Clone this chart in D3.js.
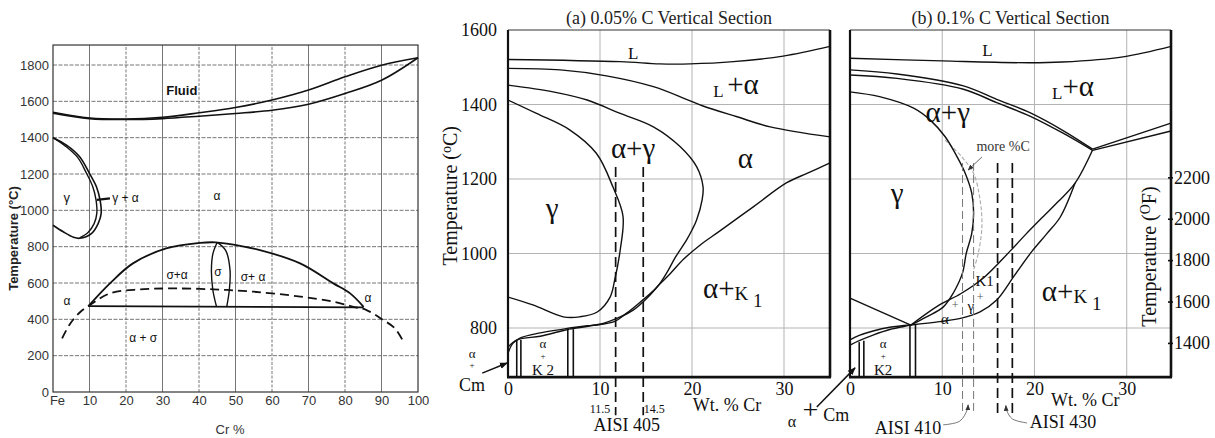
<!DOCTYPE html>
<html>
<head>
<meta charset="utf-8">
<script src="https://cdn.jsdelivr.net/npm/d3@7"></script>
<style>
  body { margin: 0; background: #fff; }
  svg { display: block; }
</style>
</head>
<body>
<svg id="chart" width="1215" height="438"></svg>
<script>
// ---------- data : Fe-Cr binary diagram (left) ----------
const feTicksX = [0, 10, 20, 30, 40, 50, 60, 70, 80, 90, 100];
const feTicksY = [0, 200, 400, 600, 800, 1000, 1200, 1400, 1600, 1800];
const feLiquidus = [[0,1540],[10,1508],[20,1502],[30,1512],[40,1537],[50,1566],[60,1607],[70,1662],[80,1735],[90,1799],[100,1840]];
const feSolidus = [[0,1535],[10,1505],[20,1500],[30,1505],[40,1518],[50,1533],[60,1551],[70,1584],[80,1643],[90,1716],[100,1840]];
const feGammaOuter = [[0,1400],[3.7,1359],[7.3,1295],[10,1203],[11.9,1130],[12.9,1056],[13.2,983],[12.4,928],[10.6,873],[7.3,846],[5.6,852],[2.8,882],[0,918]];
const feGammaInner = [[0,1400],[3.5,1352],[6.8,1290],[9.2,1203],[10.9,1130],[11.8,1056],[12,983],[11.3,928],[9.6,878],[7.3,848]];
const feSigmaUpper = [[9.7,473],[15.6,598],[21.9,708],[31,790],[40.3,821],[44.5,824],[47.6,817],[56.7,781],[67.7,708],[76.8,598],[81.4,543],[85.1,469]];
const feSigmaBase = [[9.7,473],[85.1,466]];
const feSigmaLensL = [[45,824],[43.8,760],[43.4,671],[43.8,560],[44.8,470]];
const feSigmaLensR = [[45,824],[47.3,780],[48.5,671],[48.3,560],[47.6,470]];
const feCurie = [[2.5,295],[4.7,376],[7.4,439],[9.7,473],[15.6,543],[23.9,565],[33,570],[44,565],[55,552],[67.8,525],[76.9,497],[82.3,469],[85.9,451],[90.5,396],[93.7,350],[96,277]];

// ---------- data : (a) 0.05% C vertical section ----------
const secTicksX = [0, 10, 20, 30];
const secTicksC = [800, 1000, 1200, 1400, 1600];
const secTicksF = [1400, 1600, 1800, 2000, 2200];
const aLiquidus = [[0,1521],[12.2,1515],[16.5,1509],[19.8,1509],[24.5,1515],[29.9,1530],[35,1556]];
const aSolidus = [[0,1497],[5.7,1493],[10.7,1477],[15.8,1448],[19.4,1414],[21.2,1396],[24.9,1367],[28.5,1340],[35,1313]];
const aDeltaLoop = [[0,1452],[4.9,1434],[8.6,1412],[12.2,1376],[15.8,1340],[18.7,1287],[20.5,1233],[21.2,1179],[21.1,1144],[20.5,1090],[20,1063],[19.4,1036],[18.2,990],[17.3,950],[16.2,910],[14.3,868],[12.9,840],[11.6,818],[9,806],[6.7,797]];
const aGammaLoop = [[0,1412],[3.1,1376],[6.7,1332],[9.6,1269],[11.4,1179],[12.5,1100],[12.2,1010],[11.6,929],[11.1,883],[9.7,843],[7.8,830],[6,830],[2.7,862],[0,883]];
const aK1 = [[6.7,800],[8.6,806],[10,810],[12.2,830],[13.6,848],[15.1,880],[16.5,918],[17.6,945],[19.1,985],[20.9,1023],[23,1060],[26.7,1126],[30.3,1190],[32.5,1215],[35,1243]];
const aLowUpper = [[0,732],[0.5,758],[1.3,773],[3.5,787],[6,797],[6.7,800]];
const aLowLower = [[0,749],[1,768],[3.5,778],[5.5,790],[6.7,797]];
const aK2Walls = [[0.95,768],[1.4,768],[6.5,797],[7.1,797]];
const aAisi405 = [11.7, 14.7];

// ---------- data : (b) 0.1% C vertical section ----------
const bLiquidus = [[0,1524],[10,1517],[19.5,1512],[23,1514],[29.6,1528],[34.8,1556]];
const bSolidusA = [[0,1493],[5.1,1482],[12.3,1450],[15.9,1414],[19.5,1378],[23.1,1330],[26.3,1280]];
const bSolidusB = [[0,1479],[5.1,1470],[12.3,1441],[15.9,1405],[19.5,1369],[23.1,1323],[26.3,1277]];
const bRightA = [[26.3,1280],[34.8,1350]];
const bRightB = [[26.3,1277],[34.8,1329]];
const bGammaLoop = [[0,1434],[3.2,1421],[6.9,1390],[8.7,1358],[10.3,1314],[11.6,1260],[12.5,1215],[13.2,1162],[13.4,1108],[13.2,1054],[12.6,1000],[12.2,948],[11.2,894],[10.1,856],[8.3,830],[6.6,808]];
const bEutectoid = [[0,880],[6.6,808]];
const bK1Upper = [[6.6,808],[9.7,862],[12,892],[14.5,935],[17.3,1005],[19,1050],[20.9,1098],[22.6,1140],[24.4,1189],[26.3,1278]];
const bK1Lower = [[6.6,808],[9.7,817],[12.2,827],[14.1,843],[15.9,875],[17.8,940],[19.7,1005],[21.3,1052],[22.8,1098],[24.4,1189]];
const bLowUpper = [[0,768],[1,780],[2.5,792],[4.3,802],[6.6,808]];
const bLowLower = [[0,754],[1,766],[2.5,781],[4.3,796],[6.6,808]];
const bK2Walls = [[1,762],[1.5,766],[6.5,808],[7.1,808]];
const bMoreC = [[10.3,1305],[12.1,1260],[13.4,1215],[14.1,1144],[14.3,1072],[13.9,1000],[13.4,956]];
const bAisi410 = [12.2, 13.4];
const bAisi430 = [16, 17.6];

const SANS = "'Liberation Sans', Arial, sans-serif";
const SERIF = "'Liberation Serif', 'Times New Roman', serif";
const intFmt = d3.format("d");

const svg = d3.select("#chart");

const defs = svg.append("defs");
defs.append("marker").attr("id", "arrow")
  .attr("viewBox", "0 0 10 10").attr("refX", 9).attr("refY", 5)
  .attr("markerWidth", 8).attr("markerHeight", 8)
  .attr("markerUnits", "userSpaceOnUse").attr("orient", "auto")
  .append("path").attr("d", "M0,1 L10,5 L0,9 z").attr("fill", "#111");
defs.append("marker").attr("id", "arrowSmall")
  .attr("viewBox", "0 0 10 10").attr("refX", 9).attr("refY", 5)
  .attr("markerWidth", 6).attr("markerHeight", 6)
  .attr("markerUnits", "userSpaceOnUse").attr("orient", "auto")
  .append("path").attr("d", "M0,1 L10,5 L0,9 z").attr("fill", "#333");

function curve(g, x, y, pts, st) {
  st = st || {};
  const gen = d3.line()
    .x(d => x(d[0]))
    .y(d => y(d[1]))
    .curve(st.linear ? d3.curveLinear : d3.curveCatmullRom.alpha(0.5));
  const p = g.append("path")
    .attr("d", gen(pts))
    .attr("fill", "none")
    .attr("stroke", st.stroke || "#111")
    .attr("stroke-width", st.width || 1.4)
    .attr("stroke-linejoin", "round");
  if (st.dash) p.attr("stroke-dasharray", st.dash);
  if (st.marker) p.attr("marker-end", "url(#" + st.marker + ")");
  return p;
}

function label(g, px, py, txt, size, font, opts) {
  opts = opts || {};
  return g.append("text")
    .attr("x", px).attr("y", py)
    .attr("dy", "0.35em")
    .attr("text-anchor", opts.anchor || "middle")
    .attr("font-family", font)
    .attr("font-size", size)
    .attr("font-weight", opts.bold ? "bold" : "normal")
    .attr("fill", opts.fill || "#111")
    .text(txt);
}

function phase(g, px, py, parts) {
  const t = g.append("text").attr("x", px).attr("y", py)
    .attr("font-family", SERIF).attr("fill", "#111");
  parts.forEach(p => {
    t.append("tspan").attr("font-size", p[1]).attr("dy", p[2] || 0).text(p[0]);
  });
  return t;
}

// =============== panel 1 : Fe-Cr ===============
const x1 = d3.scaleLinear().domain([0, 100]).range([53, 418]);
const y1 = d3.scaleLinear().domain([0, 1800]).range([392, 65]);
const y1Top = 1910;
const g1 = svg.append("g");

g1.selectAll(".vgrid").data(feTicksX.slice(1, -1)).enter().append("line")
  .attr("x1", d => x1(d)).attr("x2", d => x1(d))
  .attr("y1", y1(0)).attr("y2", y1(y1Top))
  .attr("stroke", "#666").attr("stroke-width", 0.9)
  .attr("stroke-dasharray", (d, i) => i % 2 ? "3,1.5" : null);
g1.selectAll(".hgrid").data(feTicksY.slice(1)).enter().append("line")
  .attr("x1", x1(0)).attr("x2", x1(100))
  .attr("y1", d => y1(d)).attr("y2", d => y1(d))
  .attr("stroke", "#666").attr("stroke-width", 0.9)
  .attr("stroke-dasharray", "4,1.5");
g1.append("rect")
  .attr("x", x1(0)).attr("y", y1(y1Top))
  .attr("width", x1(100) - x1(0)).attr("height", y1(0) - y1(y1Top))
  .attr("fill", "none").attr("stroke", "#333").attr("stroke-width", 1.2);

const ax1y = g1.append("g").attr("transform", `translate(${x1(0)},0)`)
  .call(d3.axisLeft(y1).tickValues(feTicksY).tickFormat(intFmt).tickSize(0).tickPadding(4));
ax1y.select(".domain").remove();
ax1y.attr("font-family", SANS).attr("font-size", 13);
ax1y.selectAll("text").attr("fill", "#333");

const ax1x = g1.append("g").attr("transform", `translate(0,${y1(0)})`)
  .call(d3.axisBottom(x1).tickValues(feTicksX).tickSize(0).tickPadding(4)
    .tickFormat(d => d === 0 ? "Fe" : intFmt(d)));
ax1x.select(".domain").remove();
ax1x.attr("font-family", SANS).attr("font-size", 13);
ax1x.selectAll("text").attr("fill", "#333");
ax1x.selectAll(".tick").filter(d => d === 0).select("text").attr("dx", 4);

curve(g1, x1, y1, feLiquidus, { width: 1.6 });
curve(g1, x1, y1, feSolidus, { width: 1.6 });
curve(g1, x1, y1, feGammaOuter, { width: 1.6 });
curve(g1, x1, y1, feGammaInner, { width: 1.4 });
curve(g1, x1, y1, feSigmaUpper, { width: 1.8 });
curve(g1, x1, y1, feSigmaBase, { width: 1.8, linear: true });
curve(g1, x1, y1, feSigmaLensL, { width: 1.4 });
curve(g1, x1, y1, feSigmaLensR, { width: 1.4 });
curve(g1, x1, y1, feCurie, { width: 1.8, dash: "9,5" });
curve(g1, x1, y1, [[12, 1058], [15.6, 1066]], { width: 2.2, linear: true });

label(g1, x1(35.3), y1(1662), "Fluid", 13, SANS, { bold: true });
label(g1, x1(3.8), y1(1073), "γ", 13, SANS);
label(g1, x1(16.2), y1(1068), "γ + α", 12, SANS, { anchor: "start" });
label(g1, x1(44.9), y1(1079), "α", 12, SANS);
label(g1, x1(34), y1(644), "σ+α", 12, SANS);
label(g1, x1(45.2), y1(660), "σ", 12, SANS);
label(g1, x1(54.8), y1(633), "σ+ α", 12, SANS);
label(g1, x1(3.8), y1(501), "α", 12, SANS);
label(g1, x1(86.3), y1(517), "α", 12, SANS);
label(g1, x1(24.7), y1(297), "α + σ", 12, SANS);

g1.append("text")
  .attr("transform", `translate(13,${(y1(0) + y1(y1Top)) / 2 + 20}) rotate(-90)`)
  .attr("dy", "0.35em").attr("text-anchor", "middle")
  .attr("font-family", SANS).attr("font-size", 13).attr("font-weight", "bold")
  .attr("fill", "#222")
  .text("Temperature   (°C)");
label(g1, x1(48.5), 429, "Cr %", 13, SANS, { fill: "#333" });

// =============== shared helpers for the two sections ===============
const cBottom = 668;
const yC = d3.scaleLinear().domain([800, 1600]).range([328, 30]);

function sectionFrame(g, x, xMax, title) {
  g.selectAll(".vg").data(secTicksX.slice(1)).enter().append("line")
    .attr("x1", d => x(d)).attr("x2", d => x(d))
    .attr("y1", yC(cBottom)).attr("y2", yC(1600))
    .attr("stroke", "#b3b3b3").attr("stroke-width", 1);
  g.selectAll(".hg").data(secTicksC.slice(0, -1)).enter().append("line")
    .attr("x1", x(0)).attr("x2", x(xMax))
    .attr("y1", d => yC(d)).attr("y2", d => yC(d))
    .attr("stroke", "#b3b3b3").attr("stroke-width", 1);
  g.append("line").attr("x1", x(0)).attr("x2", x(xMax))
    .attr("y1", yC(1600)).attr("y2", yC(1600))
    .attr("stroke", "#333").attr("stroke-width", 1);
  g.append("line").attr("x1", x(0)).attr("x2", x(0))
    .attr("y1", yC(1600)).attr("y2", yC(cBottom))
    .attr("stroke", "#111").attr("stroke-width", 2.2);
  g.append("line").attr("x1", x(xMax)).attr("x2", x(xMax))
    .attr("y1", yC(1600)).attr("y2", yC(cBottom))
    .attr("stroke", "#111").attr("stroke-width", 2.6);
  g.append("line").attr("x1", x(0) - 1).attr("x2", x(xMax) + 1)
    .attr("y1", yC(cBottom)).attr("y2", yC(cBottom))
    .attr("stroke", "#111").attr("stroke-width", 2.6);

  const ax = g.append("g").attr("transform", `translate(0,${yC(cBottom)})`)
    .call(d3.axisBottom(x).tickValues(secTicksX).tickFormat(intFmt).tickSize(0).tickPadding(5));
  ax.select(".domain").remove();
  ax.attr("font-family", SERIF).attr("font-size", 18);
  ax.selectAll("text").attr("fill", "#111");

  label(g, (x(0) + x(xMax)) / 2, 18, title, 18, SERIF, { fill: "#222" });
}

function walls(g, x, pts) {
  g.selectAll(".wall").data(pts).enter().append("line")
    .attr("x1", d => x(d[0])).attr("x2", d => x(d[0]))
    .attr("y1", yC(cBottom)).attr("y2", d => yC(d[1]))
    .attr("stroke", "#111").attr("stroke-width", 1.6);
}

function dashes(g, x, vals, top, bottom, st) {
  g.selectAll(".dsh").data(vals).enter().append("line")
    .attr("x1", d => x(d)).attr("x2", d => x(d))
    .attr("y1", yC(top)).attr("y2", yC(bottom))
    .attr("stroke", st.stroke).attr("stroke-width", st.width)
    .attr("stroke-dasharray", st.dash);
}

// =============== panel 2 : (a) 0.05% C ===============
const x2 = d3.scaleLinear().domain([0, 35]).range([508, 830]);
const g2 = svg.append("g");
sectionFrame(g2, x2, 35, "(a)  0.05% C Vertical Section");

const ax2y = g2.append("g").attr("transform", `translate(${x2(0)},0)`)
  .call(d3.axisLeft(yC).tickValues(secTicksC).tickFormat(intFmt).tickSize(0).tickPadding(11));
ax2y.select(".domain").remove();
ax2y.attr("font-family", SERIF).attr("font-size", 18);
ax2y.selectAll("text").attr("fill", "#111");

g2.append("text")
  .attr("transform", `translate(450,${yC(1155)}) rotate(-90)`)
  .attr("dy", "0.35em").attr("text-anchor", "middle")
  .attr("font-family", SERIF).attr("font-size", 20).attr("fill", "#111")
  .text("Temperature (")
  .call(t => t.append("tspan").attr("font-size", 14).attr("dy", -6).text("o"))
  .call(t => t.append("tspan").attr("dy", 6).text("C)"));

curve(g2, x2, yC, aLiquidus);
curve(g2, x2, yC, aSolidus);
curve(g2, x2, yC, aDeltaLoop);
curve(g2, x2, yC, aGammaLoop);
curve(g2, x2, yC, aK1);
curve(g2, x2, yC, aLowUpper);
curve(g2, x2, yC, aLowLower);
walls(g2, x2, aK2Walls);
dashes(g2, x2, aAisi405, 1232, 566, { stroke: "#111", width: 1.7, dash: "10,5" });
curve(g2, x2, yC, [[-2.8, 679], [-0.1, 706]], { width: 1.5, linear: true, marker: "arrow" });

label(g2, x2(13.6), yC(1538), "L", 17, SERIF);
phase(g2, x2(22.3), yC(1452) + 9, [["L ", 17, 3], ["+α", 29, -3]]);
label(g2, x2(13.6), yC(1283), "α+γ", 29, SERIF);
label(g2, x2(25.8), yC(1256), "α", 29, SERIF);
label(g2, x2(4.8), yC(1122), "γ", 29, SERIF);
phase(g2, x2(21.2), yC(902) + 8, [["α+", 29], ["K", 19, 2], [" 1", 19, 7]]);
label(g2, x2(3.8), yC(758), "α", 13, SERIF);
label(g2, x2(3.8), yC(725), "+", 9, SERIF);
label(g2, x2(3.8), yC(689), "K 2", 15, SERIF);
label(g2, x2(-3.9), yC(732), "α", 13, SERIF);
label(g2, x2(-3.9), yC(700), "+", 9, SERIF);
label(g2, x2(-3.9), yC(649), "Cm", 18, SERIF);
label(g2, x2(10), yC(584), "11.5", 12, SERIF);
label(g2, x2(15.9), yC(584), "14.5", 12, SERIF);
label(g2, x2(12.9), yC(540), "AISI 405", 18, SERIF);
label(g2, x2(23.8), yC(594), "Wt. % Cr", 18, SERIF);

// =============== panel 3 : (b) 0.1% C ===============
const x3 = d3.scaleLinear().domain([0, 34.8]).range([850, 1171]);
const yF = d3.scaleLinear()
  .domain([cBottom * 9 / 5 + 32, 1600 * 9 / 5 + 32])
  .range([yC(cBottom), yC(1600)]);
const g3 = svg.append("g");
sectionFrame(g3, x3, 34.8, "(b)  0.1% C Vertical Section");

const ax3y = g3.append("g").attr("transform", `translate(${x3(34.8) - 3},0)`)
  .call(d3.axisRight(yF).tickValues(secTicksF).tickFormat(intFmt).tickSize(5).tickPadding(1));
ax3y.select(".domain").remove();
ax3y.attr("font-family", SERIF).attr("font-size", 18);
ax3y.selectAll("text").attr("fill", "#111");
ax3y.selectAll("line").attr("stroke", "#111").attr("stroke-width", 1.6);

g3.append("text")
  .attr("transform", `translate(1149,${yC(1000) + 3}) rotate(-90)`)
  .attr("dy", "0.35em").attr("text-anchor", "middle")
  .attr("font-family", SERIF).attr("font-size", 20).attr("fill", "#111")
  .text("Temperature (")
  .call(t => t.append("tspan").attr("font-size", 14).attr("dy", -6).text("O"))
  .call(t => t.append("tspan").attr("dy", 6).text("F)"));

curve(g3, x3, yC, bMoreC, { stroke: "#aaa", width: 1.1, dash: "4,2" });
curve(g3, x3, yC, bLiquidus);
curve(g3, x3, yC, bSolidusA);
curve(g3, x3, yC, bSolidusB);
curve(g3, x3, yC, bRightA, { linear: true });
curve(g3, x3, yC, bRightB, { linear: true });
curve(g3, x3, yC, bGammaLoop);
curve(g3, x3, yC, bEutectoid, { linear: true });
curve(g3, x3, yC, bK1Upper);
curve(g3, x3, yC, bK1Lower);
curve(g3, x3, yC, bLowUpper);
curve(g3, x3, yC, bLowLower);
walls(g3, x3, bK2Walls);
dashes(g3, x3, bAisi410, 1243, 576, { stroke: "#777", width: 1, dash: "8,4" });
dashes(g3, x3, bAisi430, 1243, 572, { stroke: "#111", width: 1.7, dash: "10,5" });

curve(g3, x3, yC, [[14.3, 1259], [12.8, 1224]], { stroke: "#555", width: 0.9, linear: true, marker: "arrowSmall" });
curve(g3, x3, yC, [[10.1, 540], [11.9, 550], [12.7, 580], [12.8, 594]], { stroke: "#666", width: 0.9, marker: "arrowSmall" });
curve(g3, x3, yC, [[19.2, 545], [17.6, 556], [17, 578], [16.9, 592]], { stroke: "#666", width: 0.9, marker: "arrowSmall" });
curve(g3, x3, yC, [[-3.6, 588], [0.55, 693]], { width: 1.5, linear: true, marker: "arrow" });

label(g3, x3(14.9), yC(1546), "L", 17, SERIF);
phase(g3, x3(21.9), yC(1447) + 9, [["L", 17, 3], ["+α", 29, -3]]);
label(g3, x3(10.6), yC(1380), "α+γ", 29, SERIF);
label(g3, x3(5.1), yC(1162), "γ", 29, SERIF);
phase(g3, x3(20.8), yC(894) + 8, [["α+", 29], ["K", 19, 2], [" 1", 19, 7]]);
label(g3, x3(14.6), yC(927), "K1", 15, SERIF);
label(g3, x3(14.1), yC(884), "+", 12, SERIF, { fill: "#555" });
label(g3, x3(13.1), yC(859), "γ", 15, SERIF);
label(g3, x3(11.4), yC(861), "+", 12, SERIF, { fill: "#555" });
label(g3, x3(10.3), yC(826), "α", 15, SERIF);
label(g3, x3(3.6), yC(758), "α", 13, SERIF);
label(g3, x3(3.6), yC(726), "+", 9, SERIF);
label(g3, x3(3.6), yC(689), "K2", 15, SERIF);
label(g3, x3(16.6), yC(1287), "more %C", 14, SERIF, { fill: "#333" });
label(g3, x3(6.3), yC(532), "AISI 410", 18, SERIF);
label(g3, x3(23.1), yC(548), "AISI 430", 18, SERIF);
label(g3, x3(25.5), yC(607), "Wt. % Cr", 18, SERIF);
label(g3, x3(-6.3), yC(548), "α", 16, SERIF);
label(g3, x3(-4.3), yC(582), "+", 28, SERIF);
label(g3, x3(-2.9), yC(566), "Cm", 18, SERIF, { anchor: "start" });
</script>
</body>
</html>
